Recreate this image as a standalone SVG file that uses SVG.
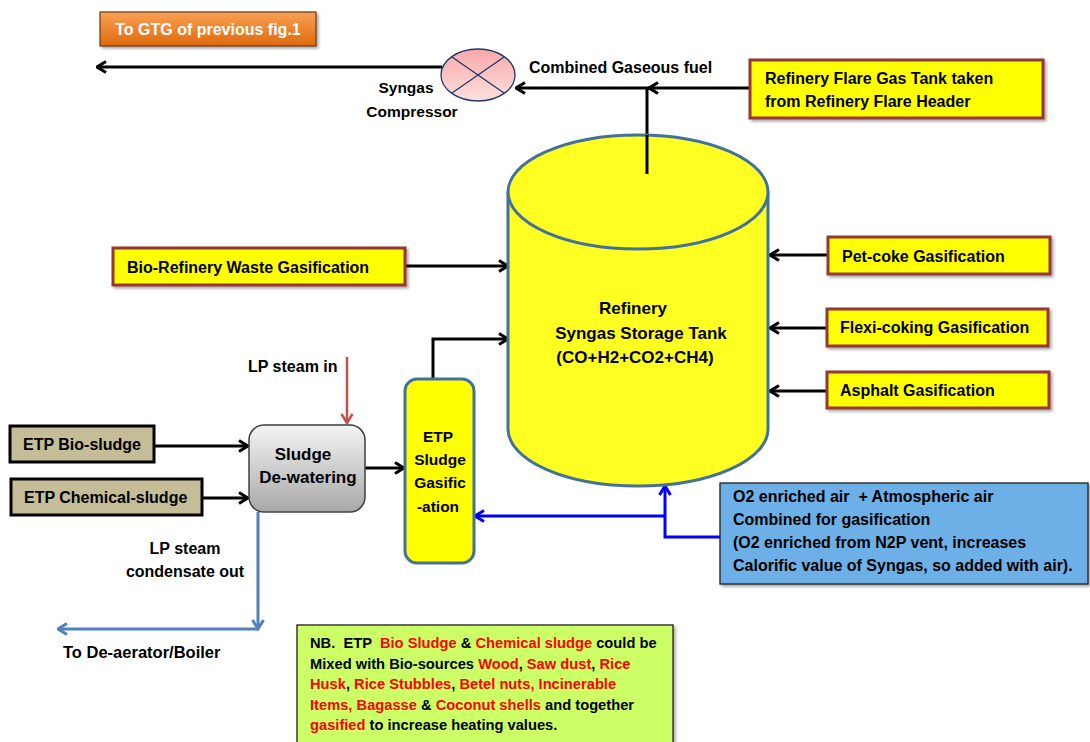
<svg xmlns="http://www.w3.org/2000/svg" width="1090" height="742" viewBox="0 0 1090 742">
<style>
text{font-family:"Liberation Sans",Arial,sans-serif;font-weight:bold;fill:#000}
.t16{font-size:16px}
.ybox{fill:#FFFF00;stroke:#953735;stroke-width:3}
.tan{fill:#C4BD97;stroke:#000;stroke-width:3}
.k{fill:none;stroke:#000;stroke-width:3}
.b{fill:none;stroke:#0000FF;stroke-width:3}
.lb{fill:none;stroke:#4F81BD;stroke-width:3}
.r{fill:none;stroke:#C0504D;stroke-width:2.5}
.red{fill:#FF0000}
.nb{font-size:14.7px}
</style>
<defs>
<marker id="ak" viewBox="0 0 12 14" refX="10.5" refY="7" markerWidth="12" markerHeight="14" markerUnits="userSpaceOnUse" orient="auto"><path d="M1.5,1.5 L10.5,7 L1.5,12.5" fill="none" stroke="#000" stroke-width="3"/></marker>
<marker id="ab" viewBox="0 0 12 14" refX="10.5" refY="7" markerWidth="12" markerHeight="14" markerUnits="userSpaceOnUse" orient="auto"><path d="M1.5,1.5 L10.5,7 L1.5,12.5" fill="none" stroke="#0000FF" stroke-width="3"/></marker>
<marker id="alb" viewBox="0 0 12 14" refX="10.5" refY="7" markerWidth="12" markerHeight="14" markerUnits="userSpaceOnUse" orient="auto"><path d="M1.5,1.5 L10.5,7 L1.5,12.5" fill="none" stroke="#4F81BD" stroke-width="3"/></marker>
<marker id="ar" viewBox="0 0 12 14" refX="10.5" refY="7" markerWidth="12" markerHeight="14" markerUnits="userSpaceOnUse" orient="auto"><path d="M1.5,1.5 L10.5,7 L1.5,12.5" fill="none" stroke="#C0504D" stroke-width="2.5"/></marker>
<linearGradient id="gOr" x1="0" y1="0" x2="0" y2="1"><stop offset="0" stop-color="#F9A054"/><stop offset="1" stop-color="#DE6A0C"/></linearGradient>
<linearGradient id="gPk" x1="0" y1="0" x2="0" y2="1"><stop offset="0" stop-color="#F8A8A8"/><stop offset="1" stop-color="#FFE0E0"/></linearGradient>
<linearGradient id="gGr" x1="0" y1="0" x2="0" y2="1"><stop offset="0" stop-color="#F4F4F4"/><stop offset="1" stop-color="#A8A8A8"/></linearGradient>
<filter id="sh" x="-5%" y="-10%" width="115%" height="130%"><feDropShadow dx="2" dy="2" stdDeviation="1.5" flood-color="#000" flood-opacity="0.35"/></filter>
</defs>

<g id="connectors">
<line class="k" x1="442" y1="67" x2="97" y2="67" marker-end="url(#ak)"/>
<line class="k" x1="750" y1="88" x2="649" y2="88" marker-end="url(#ak)"/>
<line class="k" x1="649" y1="88" x2="516" y2="88" marker-end="url(#ak)"/>
<line class="k" x1="647" y1="88" x2="647" y2="174"/>
<line class="k" x1="405" y1="266" x2="508" y2="266" marker-end="url(#ak)"/>
<polyline class="k" points="433,379 433,339 508,339" marker-end="url(#ak)"/>
<line class="k" x1="828" y1="255" x2="770" y2="255" marker-end="url(#ak)"/>
<line class="k" x1="827" y1="328" x2="770" y2="328" marker-end="url(#ak)"/>
<line class="k" x1="827" y1="391" x2="770" y2="391" marker-end="url(#ak)"/>
<line class="k" x1="154" y1="446" x2="248" y2="446" marker-end="url(#ak)"/>
<line class="k" x1="202" y1="498" x2="248" y2="498" marker-end="url(#ak)"/>
<line class="k" x1="365" y1="468" x2="404" y2="468" marker-end="url(#ak)"/>
<line class="r" x1="347" y1="357" x2="347" y2="423" marker-end="url(#ar)"/>
<line class="lb" x1="258" y1="512" x2="258" y2="629" marker-end="url(#alb)"/>
<line class="lb" x1="258" y1="629" x2="58" y2="629" marker-end="url(#alb)"/>
<polyline class="b" points="720,537 665,537 665,486" marker-end="url(#ab)"/>
<line class="b" x1="665" y1="516" x2="475" y2="516" marker-end="url(#ab)"/>
</g>

<g id="gtg">
<rect x="100" y="12" width="216" height="34" fill="url(#gOr)" stroke="#6B3A10" stroke-width="1.2" filter="url(#sh)"/>
<text class="t16" x="208" y="35" text-anchor="middle" style="fill:#fff">To GTG of previous fig.1</text>
</g>

<g id="compressor">
<ellipse cx="478" cy="75" rx="37" ry="26" fill="url(#gPk)" stroke="#1F3864" stroke-width="1.3"/>
<line x1="452" y1="57" x2="504" y2="93" stroke="#1F3864" stroke-width="1.3"/>
<line x1="504" y1="57" x2="452" y2="93" stroke="#1F3864" stroke-width="1.3"/>
<text x="406" y="93" text-anchor="middle" style="font-size:15.5px">Syngas</text>
<text x="412" y="117" text-anchor="middle" style="font-size:15.5px">Compressor</text>
</g>

<g id="combined-label">
<text class="t16" x="529" y="73">Combined Gaseous fuel</text>
</g>

<g id="flare">
<rect class="ybox" x="750" y="60" width="293" height="58" filter="url(#sh)"/>
<text class="t16" x="765" y="84">Refinery Flare Gas Tank taken</text>
<text class="t16" x="765" y="107">from Refinery Flare Header</text>
</g>

<g id="tank">
<path d="M508,192 V429 A130,57 0 0 0 768,429 V192" fill="#FFFF22" stroke="#41719C" stroke-width="3"/>
<ellipse cx="638" cy="192" rx="130" ry="57" fill="#FFFF22" stroke="#41719C" stroke-width="3"/>
<line class="k" x1="647" y1="135" x2="647" y2="174"/>
<text x="633" y="314" text-anchor="middle" style="font-size:17px">Refinery</text>
<text x="641" y="339" text-anchor="middle" style="font-size:17px">Syngas Storage Tank</text>
<text x="635" y="363" text-anchor="middle" style="font-size:17px">(CO+H2+CO2+CH4)</text>
</g>

<g id="bio-refinery">
<rect class="ybox" x="113" y="248" width="292" height="37" filter="url(#sh)"/>
<text class="t16" x="127" y="273">Bio-Refinery Waste Gasification</text>
</g>

<g id="pet-coke">
<rect class="ybox" x="828" y="237" width="222" height="37" filter="url(#sh)"/>
<text class="t16" x="842" y="262">Pet-coke Gasification</text>
</g>

<g id="flexi">
<rect class="ybox" x="827" y="309" width="221" height="37" filter="url(#sh)"/>
<text class="t16" x="840" y="333">Flexi-coking Gasification</text>
</g>

<g id="asphalt">
<rect class="ybox" x="827" y="372" width="222" height="36" filter="url(#sh)"/>
<text class="t16" x="840" y="396">Asphalt Gasification</text>
</g>

<g id="steam-in">
<text class="t16" x="248" y="372">LP steam in</text>
</g>

<g id="bio-sludge">
<rect class="tan" x="10" y="426" width="144" height="36"/>
<text class="t16" x="23" y="450">ETP Bio-sludge</text>
</g>

<g id="chem-sludge">
<rect class="tan" x="11" y="479" width="191" height="36"/>
<text class="t16" x="24" y="503">ETP Chemical-sludge</text>
</g>

<g id="dewatering">
<rect x="249" y="425" width="116" height="87" rx="15" fill="url(#gGr)" stroke="#404040" stroke-width="1.5"/>
<text x="303" y="460" text-anchor="middle" style="font-size:17px">Sludge</text>
<text x="308" y="483" text-anchor="middle" style="font-size:17px">De-watering</text>
</g>

<g id="etp-gasification">
<rect x="405" y="379" width="69" height="184" rx="12" fill="#FFFF00" stroke="#41719C" stroke-width="3"/>
<text x="438" y="442" text-anchor="middle" style="font-size:15.5px">ETP</text>
<text x="440" y="465" text-anchor="middle" style="font-size:15.5px">Sludge</text>
<text x="440" y="488" text-anchor="middle" style="font-size:15.5px">Gasific</text>
<text x="438" y="512" text-anchor="middle" style="font-size:15.5px">-ation</text>
</g>

<g id="condensate">
<text class="t16" x="185" y="554" text-anchor="middle">LP steam</text>
<text class="t16" x="185" y="577" text-anchor="middle">condensate out</text>
<text x="63" y="658" style="font-size:16.5px">To De-aerator/Boiler</text>
</g>

<g id="o2-air">
<rect x="720" y="483" width="368" height="101" fill="#6DB0E8" stroke="#1F1F1F" stroke-width="1.3" filter="url(#sh)"/>
<text class="t16" x="733" y="502" xml:space="preserve">O2 enriched air  + Atmospheric air</text>
<text class="t16" x="733" y="525">Combined for gasification</text>
<text class="t16" x="733" y="548">(O2 enriched from N2P vent, increases</text>
<text class="t16" x="733" y="571">Calorific value of Syngas, so added with air).</text>
</g>

<g id="nb-note">
<rect x="297" y="625" width="376" height="125" fill="#CCFF66" stroke="#1F1F1F" stroke-width="1.3" filter="url(#sh)"/>
<text class="nb" x="310" y="648" xml:space="preserve">NB.  ETP  <tspan class="red">Bio Sludge</tspan> &amp; <tspan class="red">Chemical sludge</tspan> could be</text>
<text class="nb" x="310" y="669" xml:space="preserve">Mixed with Bio-sources <tspan class="red">Wood</tspan>, <tspan class="red">Saw dust</tspan>, <tspan class="red">Rice</tspan></text>
<text class="nb" x="310" y="689" xml:space="preserve"><tspan class="red">Husk</tspan>, <tspan class="red">Rice Stubbles</tspan>, <tspan class="red">Betel nuts, Incinerable</tspan></text>
<text class="nb" x="310" y="710" xml:space="preserve"><tspan class="red">Items, Bagasse</tspan> &amp; <tspan class="red">Coconut shells</tspan> and together</text>
<text class="nb" x="310" y="730" xml:space="preserve"><tspan class="red">gasified</tspan> to increase heating values.</text>
</g>
</svg>
